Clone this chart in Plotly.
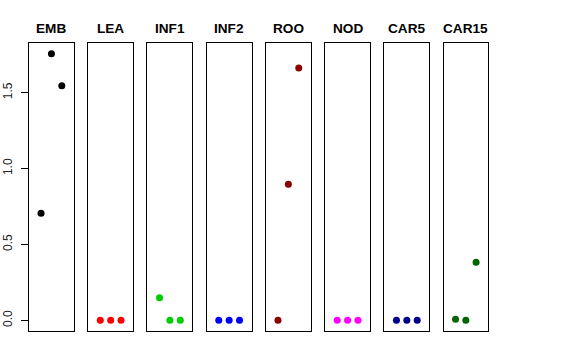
import plotly.graph_objects as go

categories = ["EMB", "LEA", "INF1", "INF2", "ROO", "NOD", "CAR5", "CAR15"]
positions = [1, 2, 3]
emb = [0.706, 1.757, 1.546]
lea = [0.0, 0.0, 0.0]
inf1 = [0.149, 0.0, 0.0]
inf2 = [0.0, 0.0, 0.0]
roo = [0.0, 0.897, 1.662]
nod = [0.0, 0.0, 0.0]
car5 = [0.0, 0.0, 0.0]
car15 = [0.007, 0.0, 0.382]
series = [emb, lea, inf1, inf2, roo, nod, car5, car15]
colors = ["#000000", "#FF0000", "#00CD00", "#0000FF", "#8B0000", "#FF00FF", "#00008B", "#006400"]
yticks = [0.0, 0.5, 1.0, 1.5]
ytick_labels = ["0.0", "0.5", "1.0", "1.5"]

W, H = 576, 360
left, right_px, top, bottom_px = 29, 488.5, 43, 331
step = 59.3
pw = 44.9
plot_w = right_px - left

fig = go.Figure()
ymax = max(max(s) for s in series)
ymin = 0.0
yr = [ymin - 0.04 * (ymax - ymin), ymax + 0.04 * (ymax - ymin)]

layout = dict(
    width=W, height=H,
    margin=dict(l=left, r=W - right_px, t=top, b=H - bottom_px, pad=0, autoexpand=False),
    paper_bgcolor="white", plot_bgcolor="white",
    showlegend=False,
    font=dict(family="Liberation Sans, Arial, sans-serif", color="black"),
)
annotations = []
for i, (cat, vals, col) in enumerate(zip(categories, series, colors)):
    n = "" if i == 0 else str(i + 1)
    x0 = (i * step) / plot_w
    x1 = min((i * step + pw) / plot_w, 1)
    fig.add_trace(go.Scatter(
        x=positions, y=vals, mode="markers",
        marker=dict(color=col, size=7, line=dict(width=0)),
        xaxis="x" + n, yaxis="y" + n, hoverinfo="skip"))
    layout["xaxis" + n] = dict(
        domain=[x0, x1], range=[-0.16, 4.16], anchor="y" + n, automargin=False,
        showline=True, mirror=True, linecolor="black", linewidth=1,
        showticklabels=False, ticks="", showgrid=False, zeroline=False, fixedrange=True)
    ydict = dict(
        domain=[0, 1], range=yr, anchor="x" + n, automargin=False,
        showline=True, mirror=True, linecolor="black", linewidth=1,
        showgrid=False, zeroline=False, fixedrange=True)
    if i == 0:
        ydict.update(tickvals=yticks, ticktext=ytick_labels, ticks="outside",
                     ticklen=7, tickcolor="black", tickwidth=1, tickangle=-90,
                     tickfont=dict(size=12, color="#222222"), ticklabelstandoff=4)
    else:
        ydict.update(showticklabels=False, ticks="")
    layout["yaxis" + n] = ydict
    annotations.append(dict(
        text="<b>" + cat + "</b>", x=(x0 + x1) / 2, y=1,
        xref="paper", yref="paper", xanchor="center", yanchor="bottom",
        yshift=5, showarrow=False, font=dict(size=13.6, color="black")))
layout["annotations"] = annotations
fig.update_layout(**layout)
fig.write_html("out.html", config={"displayModeBar": False},
               post_script="document.body.style.margin='0';document.body.style.overflow='hidden';")
